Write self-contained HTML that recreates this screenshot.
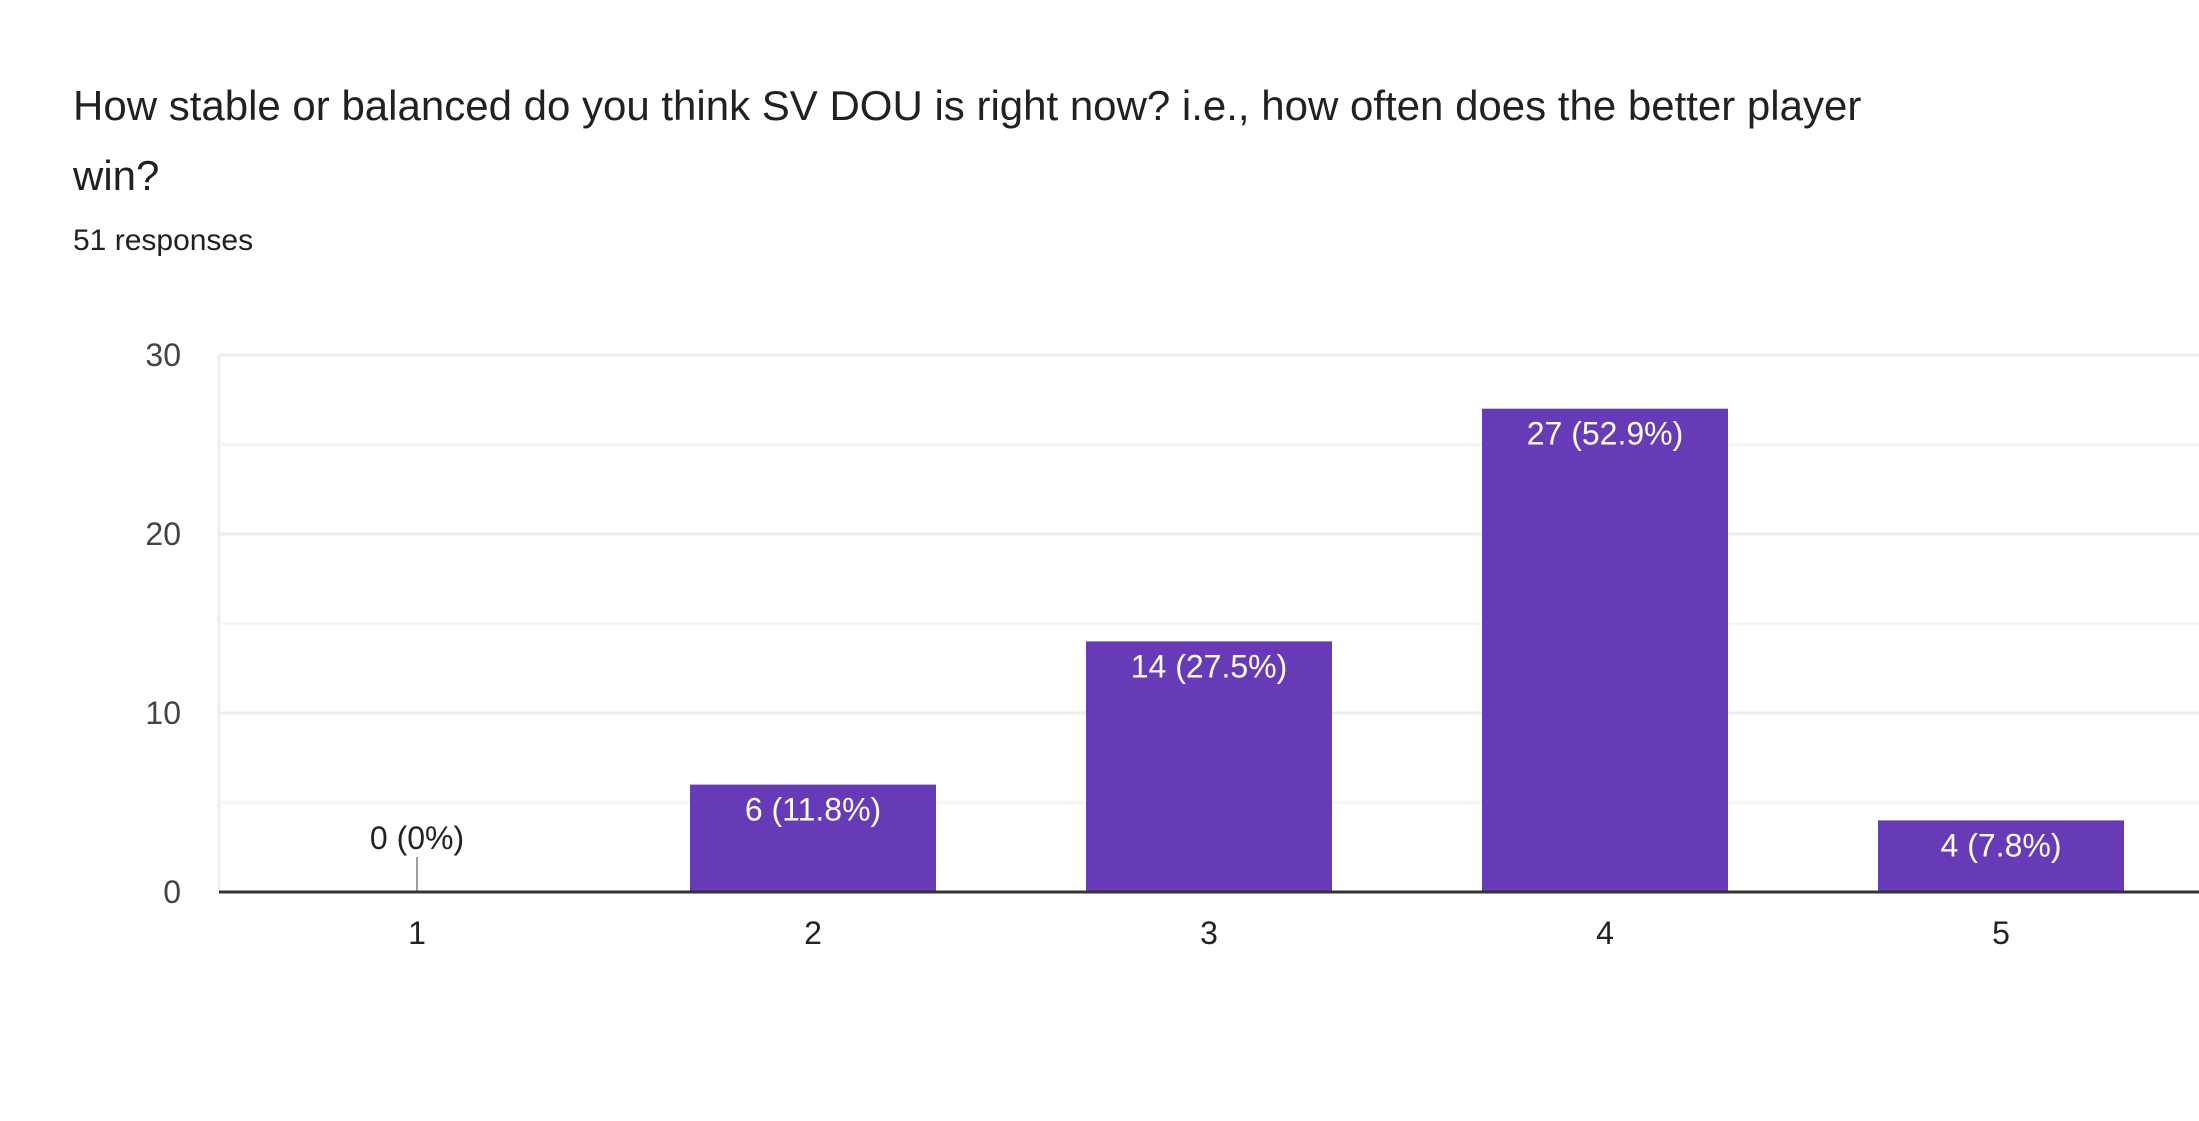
<!DOCTYPE html>
<html><head><meta charset="utf-8">
<style>
html,body{margin:0;padding:0;background:#fff;}
body{width:2199px;height:1116px;overflow:hidden;font-family:"Liberation Sans",Arial,sans-serif;}
svg text{font-family:"Liberation Sans",Arial,sans-serif;}
</style></head>
<body>
<svg width="2199" height="1116">
<text x="73" y="120" font-size="42" fill="#202124">How stable or balanced do you think SV DOU is right now? i.e., how often does the better player</text>
<text x="73" y="190" font-size="42" fill="#202124">win?</text>
<text x="73" y="250" font-size="30" fill="#202124">51 responses</text>
<g id="grid"></g>
<g id="bars"></g>
<g id="axes"></g>
</svg>
<script>
const categories = ["1","2","3","4","5"];
const counts = [0,6,14,27,4];
const percentLabels = ["0%","11.8%","27.5%","52.9%","7.8%"];
const yTicks = [0,10,20,30];
const yMinor = [5,15,25];

const NS="http://www.w3.org/2000/svg";
const plotL=219, plotR=2199, plotTop=355, plotBot=892, yMax=30;
const band=(plotR-plotL)/categories.length;
const barW=246;
function y(v){return plotBot-(v/yMax)*(plotBot-plotTop);}
function xc(i){return plotL+band*(i+0.5);}
function mk(tag,attrs,parent){const e=document.createElementNS(NS,tag);for(const k in attrs)e.setAttribute(k,attrs[k]);parent.appendChild(e);return e;}
const grid=document.getElementById('grid'),bars=document.getElementById('bars'),axes=document.getElementById('axes');
mk('line',{x1:plotL,x2:plotL,y1:plotTop,y2:plotBot,stroke:'#eeeeee','stroke-width':3},grid);
yMinor.forEach(v=>{const l=mk('line',{x1:plotL,x2:plotR,y1:y(v),y2:y(v),stroke:'#f6f6f6','stroke-width':3},grid);

});
yTicks.forEach(v=>{
 if(v>0){const l=mk('line',{x1:plotL,x2:plotR,y1:y(v),y2:y(v),stroke:'#eeeeee','stroke-width':3},grid);
 
 }
 const t=mk('text',{x:181,y:y(v)+11,'text-anchor':'end','font-size':32,fill:'#444'},axes);
 t.textContent=v;
 
 
});
categories.forEach((c,i)=>{
 const cx=xc(i), v=counts[i];
 if(v>0){
  const r=mk('rect',{x:cx-barW/2,y:y(v),width:barW,height:plotBot-y(v),fill:'#673ab7'},bars);
  
  
  const t=mk('text',{x:cx,y:y(v)+36,'text-anchor':'middle','font-size':32,fill:'#fff'},bars);
  t.textContent=v+' ('+percentLabels[i]+')';
  
  
 } else {
  const l=mk('line',{x1:cx,x2:cx,y1:plotBot-35,y2:plotBot,stroke:'#9e9e9e','stroke-width':2},bars);
  
  
  const t=mk('text',{x:cx,y:plotBot-43,'text-anchor':'middle','font-size':32,fill:'#222'},bars);
  t.textContent=v+' ('+percentLabels[i]+')';
  
  
 }
 const xt=mk('text',{x:cx,y:944,'text-anchor':'middle','font-size':32,fill:'#222'},axes);
 xt.textContent=c;
 
 
});
const base=mk('line',{x1:plotL,x2:plotR,y1:plotBot,y2:plotBot,stroke:'#333','stroke-width':3},axes);


</script>
</body></html>
